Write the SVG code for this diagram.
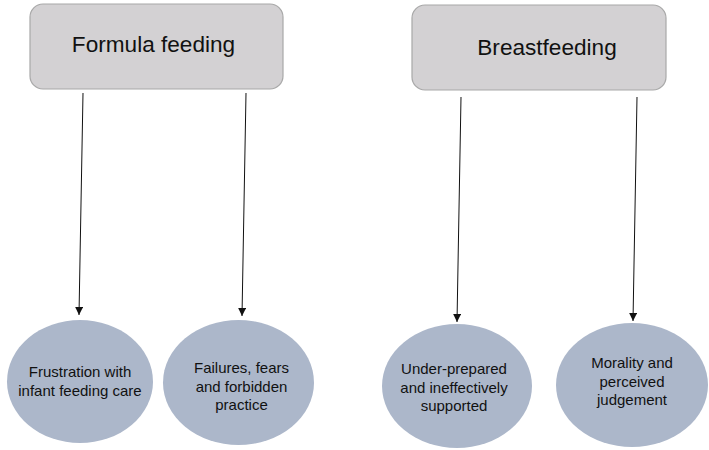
<svg xmlns="http://www.w3.org/2000/svg" width="709" height="450" viewBox="0 0 709 450">
<style>
.box{fill:#d3d1d3;stroke:#a8a8a8;stroke-width:1.2}
.ell{fill:#acb7ca}
.t1{font-family:"Liberation Sans",Arial,sans-serif;font-size:22.6px;fill:#111;text-anchor:middle}
.t2{font-family:"Liberation Sans",Arial,sans-serif;font-size:15px;fill:#111;text-anchor:middle}
.ln{stroke:#111;stroke-width:1;fill:none;marker-end:url(#ah)}
</style>
<defs>
<marker id="ah" viewBox="0 0 10 10" refX="10" refY="5" markerWidth="8" markerHeight="8" markerUnits="userSpaceOnUse" orient="auto">
<path d="M0,0 L10,5 L0,10 z" fill="#111"/>
</marker>
</defs>
<rect width="709" height="450" fill="#fff"/>
<g id="formula">
<rect class="box" x="30" y="4" width="253" height="85" rx="13"/>
<text class="t1" x="153.5" y="52">Formula feeding</text>
</g>
<g id="breast">
<rect class="box" x="412" y="5" width="254" height="85" rx="13"/>
<text class="t1" x="547" y="55">Breastfeeding</text>
</g>
<g id="connectors">
<line class="ln" x1="83" y1="93" x2="79" y2="315"/>
<line class="ln" x1="246" y1="93" x2="242" y2="316"/>
<line class="ln" x1="461" y1="97" x2="457" y2="322"/>
<line class="ln" x1="637" y1="97" x2="633" y2="321"/>
</g>
<g id="frustration">
<ellipse class="ell" cx="80" cy="381.5" rx="73" ry="61.5"/>
<text class="t2" x="80" y="377">Frustration with</text>
<text class="t2" x="80" y="396">infant feeding care</text>
</g>
<g id="failures">
<ellipse class="ell" cx="238.5" cy="382.5" rx="75.5" ry="62.5"/>
<text class="t2" x="241.5" y="373">Failures, fears</text>
<text class="t2" x="241.5" y="392">and forbidden</text>
<text class="t2" x="241.5" y="410">practice</text>
</g>
<g id="underprepared">
<ellipse class="ell" cx="457" cy="386" rx="75" ry="62"/>
<text class="t2" x="454" y="374">Under-prepared</text>
<text class="t2" x="454" y="393">and ineffectively</text>
<text class="t2" x="454" y="411">supported</text>
</g>
<g id="morality">
<ellipse class="ell" cx="632" cy="385" rx="76" ry="62"/>
<text class="t2" x="632" y="368">Morality and</text>
<text class="t2" x="632" y="387">perceived</text>
<text class="t2" x="632" y="405">judgement</text>
</g>
</svg>
